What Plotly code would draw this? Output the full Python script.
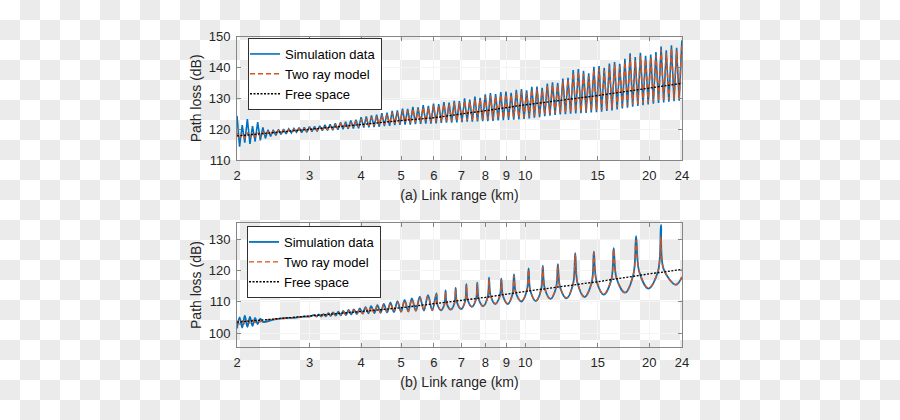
import base64
import plotly.graph_objects as go

# ------------------------------------------------------------------
# Data
# ------------------------------------------------------------------
x_ticks = [2, 3, 4, 5, 6, 7, 8, 9, 10, 15, 20, 24]
x_ticktext = ["2", "3", "4", "5", "6", "7", "8", "9", "10", "15", "20", "24"]
top_yticks = [110, 120, 130, 140, 150]
bot_yticks = [100, 110, 120, 130]

# ---- (a) upper panel: link range (km) of the sampled points
top_x = [
    2.000, 2.029, 2.059, 2.089, 2.119, 2.150, 2.181, 2.213, 2.245, 2.278, 2.311, 2.344,
    2.378, 2.413, 2.448, 2.484, 2.520, 2.556, 2.594, 2.631, 2.670, 2.709, 2.748, 2.788,
    2.828, 2.870, 2.911, 2.954, 2.997, 3.040, 3.084, 3.129, 3.175, 3.221, 3.268, 3.315,
    3.364, 3.413, 3.462, 3.513, 3.564, 3.616, 3.668, 3.721, 3.776, 3.830, 3.886, 3.943,
    4.000, 4.058, 4.117, 4.177, 4.238, 4.300, 4.362, 4.425, 4.490, 4.555, 4.622, 4.689,
    4.757, 4.826, 4.896, 4.967, 5.040, 5.113, 5.187, 5.263, 5.339, 5.417, 5.496, 5.576,
    5.657, 5.739, 5.823, 5.907, 5.993, 6.080, 6.169, 6.259, 6.350, 6.442, 6.536, 6.631,
    6.727, 6.825, 6.924, 7.025, 7.127, 7.231, 7.336, 7.443, 7.551, 7.661, 7.772, 7.885,
    8.000, 8.116, 8.234, 8.354, 8.476, 8.599, 8.724, 8.851, 8.980, 9.111, 9.243, 9.378,
    9.514, 9.652, 9.792, 9.935, 10.079, 10.226, 10.375, 10.526, 10.679, 10.834, 10.992, 11.152,
    11.314, 11.478, 11.645, 11.815, 11.987, 12.161, 12.338, 12.517, 12.699, 12.884, 13.071, 13.261,
    13.454, 13.650, 13.849, 14.050, 14.254, 14.462, 14.672, 14.886, 15.102, 15.322, 15.545, 15.771,
    16.000, 16.233, 16.469, 16.709, 16.951, 17.198, 17.448, 17.702, 17.959, 18.221, 18.486, 18.755,
    19.027, 19.304, 19.585, 19.870, 20.159, 20.452, 20.749, 21.051, 21.357, 21.668, 21.983, 22.303,
    22.627, 22.956, 23.290, 23.629, 23.973,
]
# (a) simulation data, path loss (dB)
top_sim = [
    124.3, 114.3, 121.3, 115.6, 123.3, 115.2, 121.0, 116.0, 122.3, 116.4, 120.6, 117.0,
    119.8, 117.6, 119.8, 118.0, 119.9, 118.3, 120.0, 118.5, 120.1, 118.8, 120.2, 119.0,
    120.5, 118.9, 120.6, 119.0, 120.8, 119.2, 120.9, 119.3, 121.1, 119.5, 121.4, 119.6,
    121.6, 119.7, 121.9, 119.8, 122.2, 120.0, 122.4, 120.1, 122.8, 120.2, 123.1, 120.3,
    123.9, 120.5, 124.1, 120.6, 124.5, 120.7, 124.7, 120.8, 125.2, 121.0, 125.4, 121.1,
    125.9, 121.3, 126.1, 121.4, 126.7, 121.5, 126.6, 121.5, 127.2, 121.6, 127.1, 121.7,
    127.8, 121.8, 127.6, 121.8, 128.3, 121.9, 128.1, 122.0, 128.8, 122.1, 128.6, 122.1,
    129.2, 122.2, 129.1, 122.3, 130.0, 122.4, 129.6, 122.4, 130.6, 122.5, 130.2, 122.6,
    131.3, 122.6, 131.7, 122.7, 131.4, 122.8, 132.0, 122.9, 132.2, 123.0, 131.8, 123.1,
    132.8, 123.2, 133.0, 123.3, 132.6, 123.5, 133.7, 123.7, 133.8, 123.9, 133.4, 124.2,
    134.8, 124.4, 135.2, 124.6, 135.0, 124.8, 136.4, 124.9, 136.7, 125.0, 139.2, 125.1,
    139.5, 125.2, 138.9, 125.3, 138.1, 125.4, 140.2, 125.5, 140.5, 125.7, 139.9, 125.9,
    141.3, 126.1, 141.8, 126.4, 141.2, 126.7, 142.8, 127.0, 144.6, 127.3, 143.4, 127.5,
    144.8, 127.8, 143.8, 128.0, 144.2, 128.3, 145.0, 128.5, 146.8, 128.7, 145.6, 128.9,
    147.2, 129.1, 146.4, 129.2, 148.8,
]
# (a) two ray model, path loss (dB)
top_two = [
    118.8, 116.8, 118.7, 117.0, 118.9, 117.1, 118.8, 117.4, 119.0, 117.6, 119.0, 117.9,
    119.2, 118.1, 119.3, 118.4, 119.5, 118.6, 119.6, 118.8, 119.8, 119.0, 119.9, 119.2,
    120.1, 119.3, 120.2, 119.4, 120.4, 119.6, 120.5, 119.7, 120.7, 119.9, 121.0, 120.0,
    121.1, 120.1, 121.4, 120.2, 121.7, 120.4, 121.9, 120.5, 122.3, 120.7, 122.6, 120.8,
    123.3, 121.0, 123.5, 121.1, 123.9, 121.2, 124.1, 121.3, 124.6, 121.5, 124.8, 121.6,
    125.3, 121.8, 125.5, 121.9, 126.1, 122.0, 126.0, 122.0, 126.6, 122.1, 126.5, 122.2,
    127.2, 122.3, 127.0, 122.3, 127.7, 122.4, 127.5, 122.5, 128.2, 122.6, 128.0, 122.6,
    128.6, 122.7, 128.5, 122.8, 129.3, 122.9, 129.0, 122.9, 129.8, 123.0, 129.6, 123.1,
    130.5, 123.2, 130.9, 123.3, 130.6, 123.4, 131.2, 123.5, 131.4, 123.6, 131.0, 123.7,
    132.0, 123.8, 132.2, 123.9, 131.8, 124.1, 132.9, 124.3, 133.0, 124.5, 132.6, 124.8,
    134.0, 125.0, 134.4, 125.2, 134.2, 125.4, 135.6, 125.5, 135.9, 125.6, 138.3, 125.7,
    138.6, 125.8, 138.0, 125.9, 137.2, 126.0, 139.3, 126.1, 139.6, 126.3, 139.0, 126.5,
    140.3, 126.8, 140.8, 127.1, 140.2, 127.4, 141.8, 127.7, 143.6, 128.0, 142.4, 128.2,
    143.8, 128.5, 142.8, 128.7, 143.2, 129.0, 144.0, 129.2, 145.8, 129.4, 144.6, 129.6,
    146.2, 129.8, 145.4, 129.9, 147.8,
]
# free-space curve, read at a few ranges
fs_x = [2, 3, 4, 5, 6, 8, 10, 15, 20, 24]
top_free = [117.8, 119.9, 121.5, 122.8, 123.7, 126.0, 127.9, 130.9, 133.3, 134.9]

# ---- (b) lower panel
bot_x = [
    2.000, 2.029, 2.059, 2.089, 2.119, 2.150, 2.181, 2.213, 2.245, 2.278, 2.311,
    2.45, 2.6, 2.75, 2.9, 3.0,
    3.08, 3.12, 3.16, 3.20, 3.24, 3.285, 3.33, 3.375, 3.42, 3.47,
    3.52, 3.57, 3.62, 3.675, 3.73, 3.785, 3.84, 3.905, 3.97, 4.035,
    4.10, 4.165, 4.23, 4.305, 4.38, 4.46, 4.54, 4.625, 4.71, 4.805,
    4.90, 5.0, 5.10, 5.205, 5.31, 5.43, 5.55, 5.68, 5.81, 5.95,
    6.09, 6.13, 6.25, 6.37, 6.41, 6.45, 6.60, 6.74, 6.78, 6.83, 6.99, 7.15,
    7.20, 7.25, 7.42, 7.60, 7.65, 7.71, 7.91, 8.11, 8.17, 8.24, 8.46, 8.68,
    8.75, 8.83, 9.07, 9.31, 9.39, 9.49, 9.79, 10.09, 10.19, 10.29, 10.61, 10.93,
    11.03, 11.15, 11.51, 11.88, 12.0, 12.15, 12.6, 13.07, 13.22, 13.39, 13.93, 14.5,
    14.67, 14.88, 15.5, 16.18, 16.39, 16.65, 17.45, 18.3, 18.57, 18.9, 19.9, 21.0,
    21.34, 21.65, 23.2, 24.0,
]
bot_sim = [
    101.5, 105.0, 101.8, 105.6, 102.0, 105.2, 102.3, 104.9, 102.9, 104.6, 103.6,
    104.3, 104.8, 104.9, 105.3, 105.3,
    105.8, 105.3, 106.0, 105.3, 106.1, 105.4, 106.4, 105.5, 106.6, 105.6,
    106.9, 105.7, 107.1, 105.8, 107.4, 106.0, 107.6, 106.1, 107.9, 106.2,
    108.3, 106.3, 108.6, 106.4, 108.9, 106.5, 109.3, 106.6, 109.7, 106.7,
    110.2, 106.8, 110.6, 106.9, 111.1, 107.1, 111.6, 107.2, 112.1, 107.3,
    112.7, 109.0, 107.3, 109.3, 113.6, 109.5, 107.5, 109.7, 114.4, 109.9, 107.7, 110.2,
    115.6, 110.7, 108.4, 110.9, 116.1, 111.0, 108.6, 111.5, 117.7, 112.0, 109.3, 111.9,
    117.4, 111.9, 109.3, 112.3, 118.7, 112.9, 110.1, 113.5, 120.6, 113.5, 110.2, 113.9,
    121.5, 114.3, 110.9, 114.5, 122.0, 114.6, 111.1, 115.8, 125.5, 116.0, 111.5, 116.2,
    126.0, 116.8, 112.3, 117.1, 127.1, 117.5, 112.9, 118.8, 130.9, 119.6, 114.2, 119.8,
    134.5, 120.5, 115.4, 117.9,
]
bot_two = [
    103.9, 102.9, 104.0, 103.0, 104.0, 103.2, 104.1, 103.4, 104.1, 103.6, 104.1,
    104.4, 104.7, 105.0, 105.2, 105.4,
    105.7, 105.4, 105.9, 105.4, 106.0, 105.5, 106.3, 105.6, 106.4, 105.7,
    106.7, 105.8, 106.9, 105.9, 107.2, 106.1, 107.4, 106.2, 107.7, 106.3,
    108.1, 106.4, 108.4, 106.5, 108.7, 106.6, 109.0, 106.7, 109.4, 106.8,
    109.9, 106.9, 110.3, 107.0, 110.8, 107.2, 111.3, 107.3, 111.8, 107.4,
    112.3, 109.0, 107.4, 109.3, 113.2, 109.5, 107.6, 109.7, 114.0, 109.9, 107.8, 110.2,
    115.2, 110.7, 108.5, 110.9, 115.7, 111.0, 108.7, 111.5, 117.3, 112.0, 109.4, 111.9,
    117.0, 111.9, 109.4, 112.3, 118.3, 112.9, 110.2, 113.5, 120.2, 113.5, 110.3, 113.9,
    121.1, 114.3, 111.0, 114.5, 121.6, 114.6, 111.2, 115.8, 125.1, 116.0, 111.6, 116.2,
    125.6, 116.8, 112.4, 117.1, 126.7, 117.5, 113.0, 118.8, 129.6, 119.6, 114.3, 119.8,
    130.8, 120.5, 115.5, 117.8,
]
bot_free = [103.5, 105.4, 106.9, 108.1, 109.3, 111.4, 113.3, 116.4, 118.9, 120.3]

assert len(top_x) == len(top_sim) == len(top_two)
assert len(bot_x) == len(bot_sim) == len(bot_two)

# ------------------------------------------------------------------
# Styling
# ------------------------------------------------------------------
BLUE = "#0072BD"
ORANGE = "#D95319"
FONT = "Liberation Sans, Arial, sans-serif"
TXT = "#262626"
FRAME = "#858585"
GRID = "#f4f4f4"

W, H = 900, 420
X0, X1 = 237, 682

fig = go.Figure()

# upper panel
fig.add_trace(go.Scatter(x=top_x, y=top_sim, mode="lines", name="Simulation data",
                         line=dict(color=BLUE, width=1.6), xaxis="x", yaxis="y",
                         legend="legend"))
fig.add_trace(go.Scatter(x=top_x, y=top_two, mode="lines", name="Two ray model",
                         line=dict(color=ORANGE, width=1.5, dash="5px,3px"),
                         xaxis="x", yaxis="y", legend="legend"))
fig.add_trace(go.Scatter(x=fs_x, y=top_free, mode="lines", name="Free space",
                         line=dict(color="black", width=1.3, dash="2px,1.5px"),
                         xaxis="x", yaxis="y", legend="legend"))

# lower panel
fig.add_trace(go.Scatter(x=bot_x, y=bot_sim, mode="lines", name="Simulation data",
                         line=dict(color=BLUE, width=1.8, shape="spline", smoothing=1),
                         xaxis="x2", yaxis="y2", legend="legend2"))
fig.add_trace(go.Scatter(x=bot_x, y=bot_two, mode="lines", name="Two ray model",
                         line=dict(color=ORANGE, width=1.4, dash="5px,3px",
                                   shape="spline", smoothing=1),
                         xaxis="x2", yaxis="y2", legend="legend2"))
fig.add_trace(go.Scatter(x=fs_x, y=bot_free, mode="lines", name="Free space",
                         line=dict(color="black", width=1.3, dash="2px,1.5px"),
                         xaxis="x2", yaxis="y2", legend="legend2"))

# checkerboard backdrop (the reference sits on a transparency checkerboard)
svg = (
    '<svg xmlns="http://www.w3.org/2000/svg" width="900" height="420">'
    '<defs><pattern id="c" width="40" height="40" patternUnits="userSpaceOnUse">'
    '<rect width="40" height="40" fill="#ffffff"/>'
    '<rect x="20" y="0" width="20" height="20" fill="#ebebeb"/>'
    '<rect x="0" y="20" width="20" height="20" fill="#ebebeb"/>'
    '</pattern></defs><rect width="900" height="420" fill="url(#c)"/></svg>'
)
svg_uri = "data:image/svg+xml;base64," + base64.b64encode(svg.encode()).decode()


def xax(title, anchor):
    return dict(
        type="log", range=[0.30103, 1.380211],
        domain=[X0 / W, X1 / W], anchor=anchor, automargin=False,
        tickvals=x_ticks, ticktext=x_ticktext,
        ticks="inside", ticklen=4, tickcolor=FRAME, tickwidth=1,
        showline=True, linecolor=FRAME, linewidth=1, mirror="ticks",
        showgrid=True, gridcolor=GRID, gridwidth=1, zeroline=False,
        tickfont=dict(family=FONT, size=13, color=TXT),
        ticklabelstandoff=3,
        title=dict(text=title, font=dict(family=FONT, size=14, color=TXT), standoff=8),
    )


def yax(rng, ticks, dom, anchor):
    return dict(
        range=rng, domain=dom, anchor=anchor, automargin=False,
        tickvals=ticks,
        ticks="inside", ticklen=4, tickcolor=FRAME, tickwidth=1,
        showline=True, linecolor=FRAME, linewidth=1, mirror="ticks",
        showgrid=True, gridcolor=GRID, gridwidth=1, zeroline=False,
        tickfont=dict(family=FONT, size=13, color=TXT),
        ticklabelstandoff=3,
        title=dict(text="Path loss (dB)", font=dict(family=FONT, size=14, color=TXT),
                   standoff=3),
    )


leg_common = dict(
    xref="paper", yref="paper", xanchor="left", yanchor="top",
    bgcolor="white", bordercolor="#303030", borderwidth=1,
    font=dict(family=FONT, size=13, color="black"),
    tracegroupgap=0, itemwidth=30, indentation=-4,
)

fig.update_layout(
    width=W, height=H, autosize=False,
    margin=dict(l=0, r=0, t=0, b=0, pad=0, autoexpand=False),
    paper_bgcolor="white",
    plot_bgcolor="rgba(0,0,0,0)",
    font=dict(family=FONT, color=TXT),
    showlegend=True,
    xaxis=xax("(a) Link range (km)", "y"),
    yaxis=yax([110, 150], top_yticks, [1 - 160 / H, 1 - 36.7 / H], "x"),
    xaxis2=xax("(b) Link range (km)", "y2"),
    yaxis2=yax([95.6, 135.1], bot_yticks, [1 - 347 / H, 1 - 223 / H], "x2"),
    legend=dict(x=248 / W, y=1 - 38 / H, **leg_common),
    legend2=dict(x=247 / W, y=1 - 226 / H, **leg_common),
    images=[dict(source=svg_uri, xref="paper", yref="paper", x=0, y=1,
                 sizex=1, sizey=1, sizing="stretch", xanchor="left",
                 yanchor="top", layer="below")],
)

fig.write_html(
    "out.html",
    config={"displayModeBar": False, "responsive": False},
    post_script="document.body.style.margin='0';document.body.style.overflow='hidden';",
)
